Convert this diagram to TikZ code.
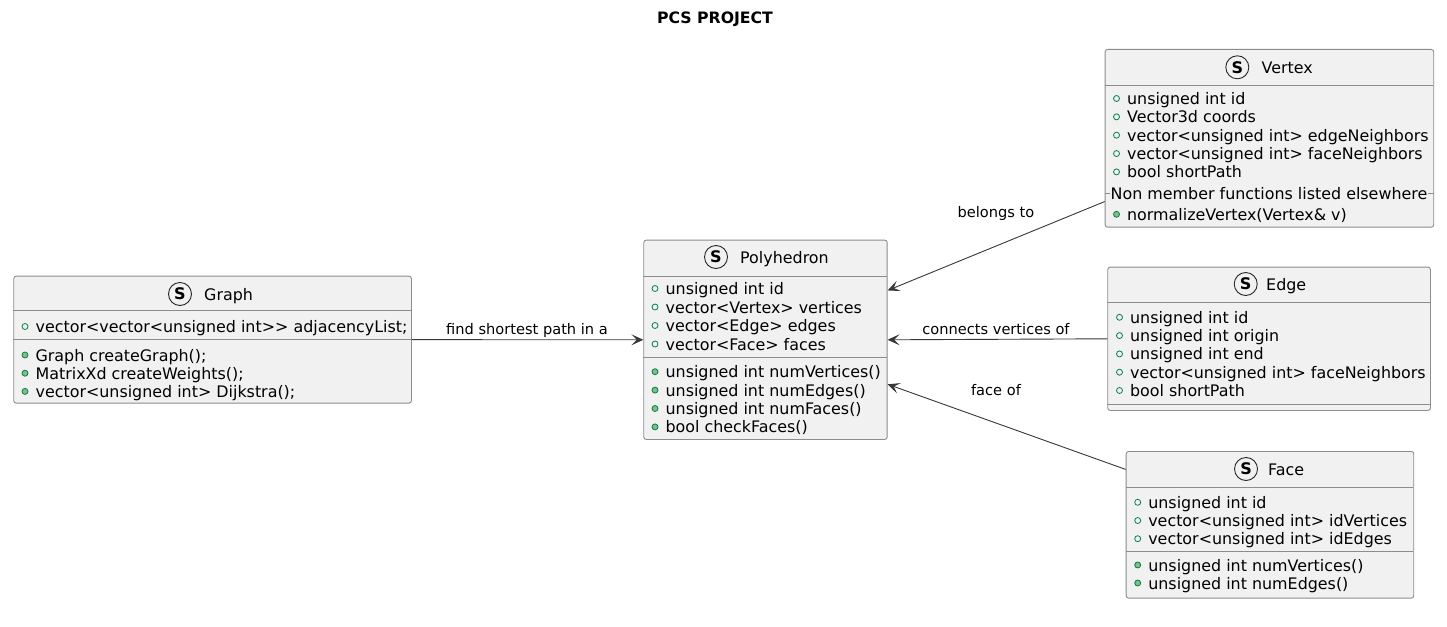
\documentclass[tikz,border=0pt]{standalone}
\usepackage{fontspec}
\setmainfont{DejaVu Sans}
\usetikzlibrary{arrows.meta,calc,positioning}
\definecolor{clsfill}{HTML}{F1F1F1}
\definecolor{clsborder}{HTML}{8C8C8C}
\definecolor{visgreen}{HTML}{038048}
\definecolor{visfill}{HTML}{84BE84}
\definecolor{linkgray}{HTML}{383838}
\tikzstyle{cls}=[draw=clsborder,fill=clsfill,rounded corners=2.5pt,line width=0.9pt,
                anchor=north west,inner sep=0pt]
\tikzstyle{sep}=[draw=clsborder,line width=0.9pt]
\tikzstyle{stereo}=[circle,draw=black!85,line width=0.9pt,minimum size=23pt,inner sep=0pt,
                font=\fontsize{16}{16}\selectfont\bfseries]
\tikzstyle{member}=[anchor=west,inner sep=0pt,font=\fontsize{15.9}{18}\selectfont,
                text height=15pt,text depth=3pt]
\tikzstyle{fld}=[circle,draw=visgreen,line width=0.8pt,minimum size=6pt,inner sep=0pt]
\tikzstyle{mth}=[fld,fill=visfill]
\tikzstyle{lbl}=[inner sep=0pt,font=\fontsize{14.6}{17}\selectfont,text height=13pt,text depth=2pt]
\tikzstyle{assoc}=[draw=linkgray,line width=0.9pt,-{Stealth[length=12pt,width=11pt,inset=5.5pt]}]

\begin{document}
\begin{tikzpicture}[x=1pt,y=-1pt]
\useasboundingbox[fill=white] (0,0) rectangle (1447,626);

\node[font=\fontsize{15.7}{18}\selectfont\bfseries] (title) at (715,19) {PCS PROJECT};

% % % % % % % % % % % % % % % Graph
\node[cls,minimum width=397.7pt,minimum height=127pt] (graph) at (13.3,275.7) {};
\node[stereo] (graphS) at (180,294) {S};
\node[member] (graphN) at (204,294) {Graph};
\draw[sep] (13.3,310.7) -- (411,310.7);
\draw[sep] (13.3,339.5) -- (411,339.5);
\foreach \txt [count=\i] in {vector<vector<unsigned int>{}> adjacencyList;} {
\node[fld] (graphF\i) at (25,{326.5+18.2*(\i-1)}) {};
\node[member,right=7pt of graphF\i] (graphA\i) {\txt};
}
\foreach \txt [count=\i] in {Graph createGraph();,MatrixXd createWeights();,vector<unsigned int> Dijkstra();} {
\node[mth] (graphG\i) at (25,{355+18.2*(\i-1)}) {};
\node[member,right=7pt of graphG\i] (graphM\i) {\txt};
}

% % % % % % % % % % % % % % % Polyhedron
\node[cls,minimum width=243.4pt,minimum height=199.3pt] (poly) at (643.3,239.7) {};
\node[stereo] (polyS) at (716,257) {S};
\node[member] (polyN) at (740,257) {Polyhedron};
\draw[sep] (643.3,276) -- (886.7,276);
\draw[sep] (643.3,357.7) -- (886.7,357.7);
\foreach \txt [count=\i] in {unsigned int id,vector<Vertex> vertices,vector<Edge> edges,vector<Face> faces} {
\node[fld] (polyF\i) at (655,{288.5+18.5*(\i-1)}) {};
\node[member,right=7pt of polyF\i] (polyA\i) {\txt};
}
\foreach \txt [count=\i] in {unsigned int numVertices(),unsigned int numEdges(),unsigned int numFaces(),bool checkFaces()} {
\node[mth] (polyG\i) at (655,{371.7+18.4*(\i-1)}) {};
\node[member,right=7pt of polyG\i] (polyM\i) {\txt};
}

% % % % % % % % % % % % % % % Vertex
\node[cls,minimum width=328.6pt,minimum height=177.7pt] (vertex) at (1104.7,49) {};
\node[stereo] (vertexS) at (1237.3,67.3) {S};
\node[member] (vertexN) at (1261.5,67.3) {Vertex};
\draw[sep] (1104.7,85.7) -- (1433.3,85.7);
\foreach \txt [count=\i] in {unsigned int id,Vector3d coords,vector<unsigned int> edgeNeighbors,vector<unsigned int> faceNeighbors,bool shortPath} {
\node[fld] (vertexF\i) at (1116.5,{98.5+18.35*(\i-1)}) {};
\node[member,right=7pt of vertexF\i] (vertexA\i) {\txt};
}
\node[member,anchor=center] (vertexNote) at (1269,193.3) {Non member functions listed elsewhere};
\draw[sep] (vertex.west |- vertexNote) -- (vertexNote.west);
\draw[sep] (vertexNote.east) -- (vertex.east |- vertexNote);
\node[mth] (vertexG1) at (1116.5,214.3) {};
\node[member,right=7pt of vertexG1] (vertexM1) {normalizeVertex(Vertex\& v)};

% % % % % % % % % % % % % % % Edge
\node[cls,minimum width=322.7pt,minimum height=143.3pt] (edge) at (1107.3,266.7) {};
\node[stereo] (edgeS) at (1245.7,284) {S};
\node[member] (edgeN) at (1266,284) {Edge};
\draw[sep] (1107.3,302.7) -- (1430,302.7);
\draw[sep] (1107.3,404) -- (1430,404);
\foreach \txt [count=\i] in {unsigned int id,unsigned int origin,unsigned int end,vector<unsigned int> faceNeighbors,bool shortPath} {
\node[fld] (edgeF\i) at (1119.5,{317.3+18.3*(\i-1)}) {};
\node[member,right=7pt of edgeF\i] (edgeA\i) {\txt};
}

% % % % % % % % % % % % % % % Face
\node[cls,minimum width=287.6pt,minimum height=146.7pt] (face) at (1125.7,451) {};
\node[stereo] (faceS) at (1246,469) {S};
\node[member] (faceN) at (1268,469) {Face};
\draw[sep] (1125.7,487.7) -- (1413.3,487.7);
\draw[sep] (1125.7,551.7) -- (1413.3,551.7);
\foreach \txt [count=\i] in {unsigned int id,vector<unsigned int> idVertices,vector<unsigned int> idEdges} {
\node[fld] (faceF\i) at (1137.7,{502.3+18.2*(\i-1)}) {};
\node[member,right=7pt of faceF\i] (faceA\i) {\txt};
}
\foreach \txt [count=\i] in {unsigned int numVertices(),unsigned int numEdges()} {
\node[mth] (faceG\i) at (1137.7,{565+18*(\i-1)}) {};
\node[member,right=7pt of faceG\i] (faceM\i) {\txt};
}

% % % % % % % % % % % % % % % links
\draw[assoc] (graph.east) -- (poly.west);
\draw[assoc] (vertex.201.8) -- (poly.22.1);
\draw[assoc] (edge.west) -- (poly.east);
\draw[assoc] (face.159.8) -- (poly.-20.6);

\node[lbl] (findLbl) at (527,329) {find shortest path in a};
\node[lbl] (belongsLbl) at (996,211.7) {belongs to};
\node[lbl] (connectsLbl) at (996,329.3) {connects vertices of};
\node[lbl] (faceLbl) at (996,390) {face of};

\end{tikzpicture}
\end{document}
